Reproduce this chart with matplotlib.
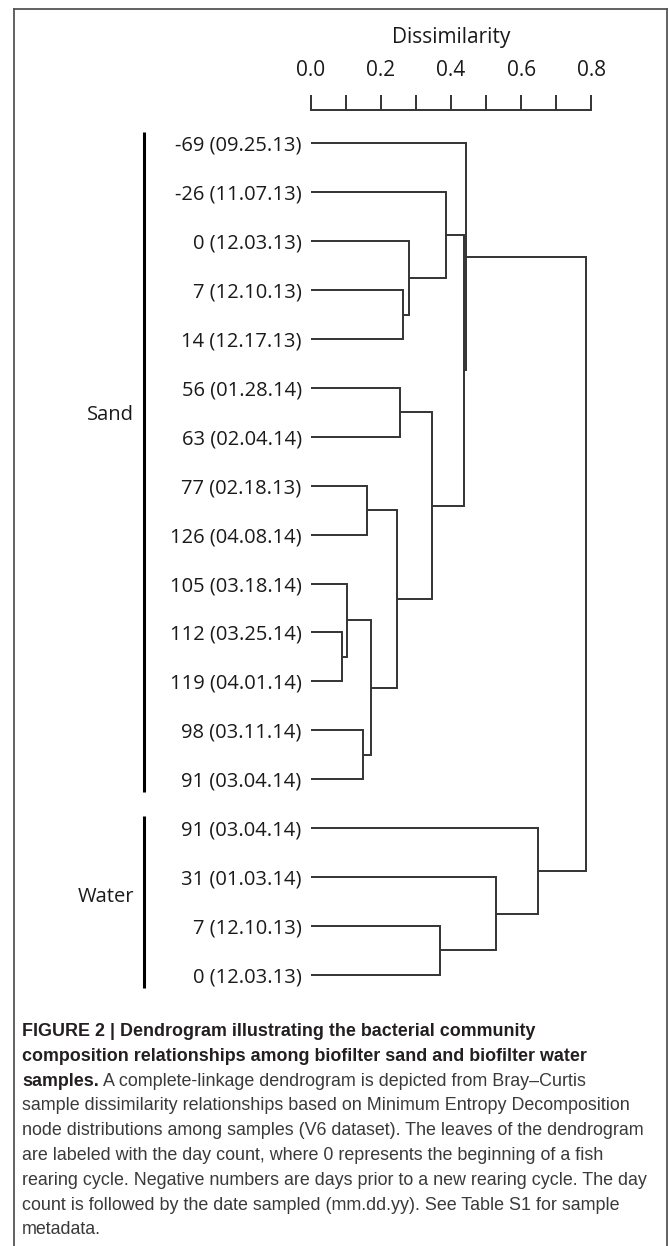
import matplotlib.pyplot as plt
from matplotlib.lines import Line2D
import numpy as np

# leaves in display order, top to bottom
leaf_labels = ['-69 (09.25.13)', '-26 (11.07.13)', '0 (12.03.13)', '7 (12.10.13)',
               '14 (12.17.13)', '56 (01.28.14)', '63 (02.04.14)', '77 (02.18.13)',
               '126 (04.08.14)', '105 (03.18.14)', '112 (03.25.14)', '119 (04.01.14)',
               '98 (03.11.14)', '91 (03.04.14)',
               '91 (03.04.14)', '31 (01.03.14)', '7 (12.10.13)', '0 (12.03.13)']
group_names = ['Sand', 'Water']
group_sizes = [14, 4]

# merge k creates node 18 + k; ids below 18 are leaves
merge_a = [3, 2, 1, 10, 9, 12, 22, 7, 25, 5, 27, 20, 0, 16, 15, 14, 30]
merge_b = [4, 18, 19, 11, 21, 13, 23, 8, 24, 6, 26, 28, 29, 17, 31, 32, 33]
merge_height = [0.264, 0.281, 0.385, 0.088, 0.103, 0.150, 0.171, 0.160, 0.245,
                0.255, 0.345, 0.438, 0.443, 0.370, 0.528, 0.648, 0.784]

ticks_major = [0.0, 0.2, 0.4, 0.6, 0.8]

caption_bold = ['FIGURE 2 | Dendrogram illustrating the bacterial community',
                'composition relationships among biofilter sand and biofilter water',
                'samples.']
caption_text = [' A complete-linkage dendrogram is depicted from Bray\u2013Curtis',
                'sample dissimilarity relationships based on Minimum Entropy Decomposition',
                'node distributions among samples (V6 dataset). The leaves of the dendrogram',
                'are labeled with the day count, where 0 represents the beginning of a fish',
                'rearing cycle. Negative numbers are days prior to a new rearing cycle. The day',
                'count is followed by the date sampled (mm.dd.yy). See Table S1 for sample',
                'metadata.']

W, H = 669, 1246
LINE = '#333333'
plt.rcParams['font.family'] = ['Open Sans', 'DejaVu Sans']

fig = plt.figure(figsize=(W / 100, H / 100), dpi=100)
fig.patch.set_facecolor('white')
renderer = fig.canvas.get_renderer()

def fx(x):
    return x / W

def fy(y):
    return 1 - y / H

ax = fig.add_axes([fx(310.7), fy(1000), fx(591.3) - fx(310.7), fy(110) - fy(1000)])
ax.set_xlim(0, 0.8)
ax.set_ylim(17.513, -0.681)
for side in ['left', 'right', 'bottom']:
    ax.spines[side].set_visible(False)
ax.spines['top'].set_color(LINE)
ax.spines['top'].set_linewidth(1.4)
ax.patch.set_visible(False)

ax.xaxis.tick_top()
ax.set_xticks(ticks_major)
ax.set_xticklabels([f'{t:.1f}' for t in ticks_major])
ax.set_xticks(np.arange(0.1, 0.8, 0.2), minor=True)
ax.tick_params(axis='x', which='both', direction='out', length=10.8, width=1.4,
               color=LINE, labelsize=15, pad=10, labelcolor='#1a1a1a')
ax.set_xlabel('Dissimilarity', fontsize=15, color='#1a1a1a', labelpad=12.5)
ax.xaxis.set_label_position('top')

ax.set_yticks(range(len(leaf_labels)))
ax.set_yticklabels(leaf_labels)
ax.tick_params(axis='y', length=0, pad=6.5, labelsize=14.5, labelcolor='#1a1a1a')

# dendrogram links
ypos = list(range(len(leaf_labels)))
hpos = [0.0] * len(leaf_labels)
for a, b, h in zip(merge_a, merge_b, merge_height):
    ax.plot([hpos[a], h, h, hpos[b]], [ypos[a], ypos[a], ypos[b], ypos[b]],
            color=LINE, lw=1.4, solid_capstyle='butt', solid_joinstyle='miter',
            clip_on=False)
    ypos.append((ypos[a] + ypos[b]) / 2)
    hpos.append(h)

# group bars and names
tr = ax.get_yaxis_transform()
start = 0
label_rows = [5.55, 15.4]
for name, size, row in zip(group_names, group_sizes, label_rows):
    first, last = start, start + size - 1
    ax.plot([-0.594, -0.594], [first - 0.24, last + 0.27], transform=tr,
            color='black', lw=2.2, solid_capstyle='butt', clip_on=False)
    ax.text(-0.63, row, name, transform=tr, ha='right', va='center',
            fontsize=14.5, color='#1a1a1a')
    start += size

# caption: size the font so the longest line spans the panel width
cap_font = ['Liberation Sans', 'DejaVu Sans']
probe = fig.text(0, 0, caption_text[4], family=cap_font, fontsize=10)
cap_size = 10 * 628 / probe.get_window_extent(renderer).width
probe.remove()

base0, step = 1036, 24.8
for i, s in enumerate(caption_bold):
    t = fig.text(fx(22), fy(base0 + step * i), s, ha='left', va='baseline',
                 family=cap_font, fontsize=cap_size, weight='bold', color='#231f20')
bb = t.get_window_extent(renderer)
for j, s in enumerate(caption_text):
    i = len(caption_bold) - 1 + j
    x = bb.x1 / W if j == 0 else fx(22)
    fig.text(x, fy(base0 + step * i), s, ha='left', va='baseline',
             family=cap_font, fontsize=cap_size, color='#3a3a3a')

# panel frame
frame = dict(color='#555555', lw=1.3, transform=fig.transFigure)
fig.add_artist(Line2D([fx(14), fx(667)], [fy(8.5), fy(8.5)], **frame))
fig.add_artist(Line2D([fx(14), fx(14)], [fy(8.5), 0], **frame))
fig.add_artist(Line2D([fx(667), fx(667)], [fy(8.5), 0], **frame))

fig.savefig('out.png', dpi=100)
